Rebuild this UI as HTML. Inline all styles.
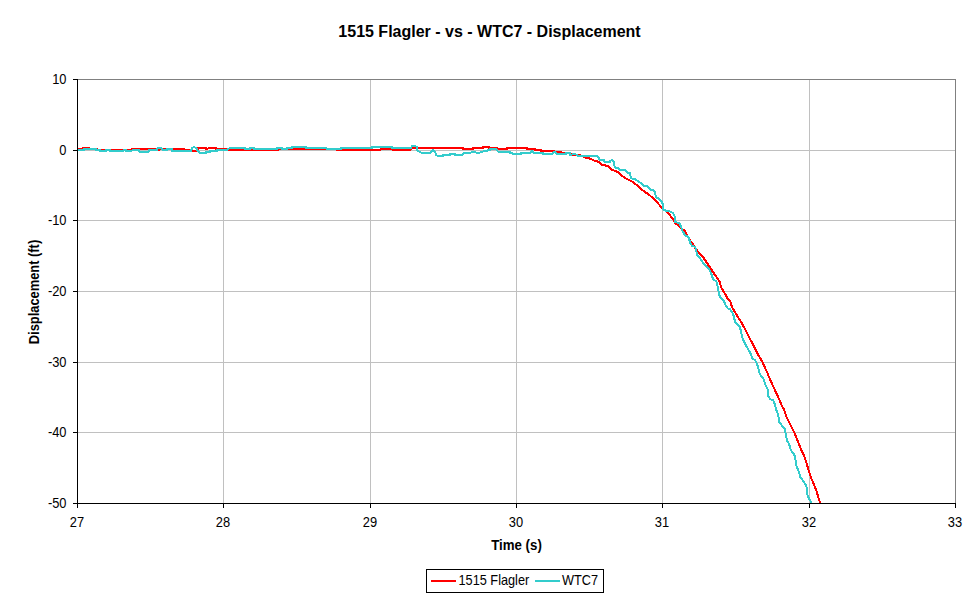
<!DOCTYPE html>
<html><head><meta charset="utf-8"><style>
html,body{margin:0;padding:0;background:#fff;}
svg{display:block;}
text{font-family:"Liberation Sans",sans-serif;fill:#000;}
</style></head><body>
<svg width="979" height="600" viewBox="0 0 979 600">
<rect x="0" y="0" width="979" height="600" fill="#fff"/>
<text x="489.5" y="37" text-anchor="middle" font-size="16" font-weight="bold">1515 Flagler - vs - WTC7 - Displacement</text>
<g shape-rendering="crispEdges">
<line x1="223.5" y1="79" x2="223.5" y2="503" stroke="#c0c0c0"/>
<line x1="370.5" y1="79" x2="370.5" y2="503" stroke="#c0c0c0"/>
<line x1="516.5" y1="79" x2="516.5" y2="503" stroke="#c0c0c0"/>
<line x1="662.5" y1="79" x2="662.5" y2="503" stroke="#c0c0c0"/>
<line x1="809.5" y1="79" x2="809.5" y2="503" stroke="#c0c0c0"/>
<line x1="77" y1="150.5" x2="955" y2="150.5" stroke="#c0c0c0"/>
<line x1="77" y1="220.5" x2="955" y2="220.5" stroke="#c0c0c0"/>
<line x1="77" y1="291.5" x2="955" y2="291.5" stroke="#c0c0c0"/>
<line x1="77" y1="362.5" x2="955" y2="362.5" stroke="#c0c0c0"/>
<line x1="77" y1="432.5" x2="955" y2="432.5" stroke="#c0c0c0"/>
<line x1="77" y1="79.5" x2="956" y2="79.5" stroke="#808080"/>
<line x1="955.5" y1="79" x2="955.5" y2="504" stroke="#808080"/>
</g>
<defs><clipPath id="pc"><rect x="77" y="77" width="879" height="426"/></clipPath></defs>
<g clip-path="url(#pc)" fill="none" stroke-width="2" shape-rendering="crispEdges" stroke-linejoin="round" stroke-linecap="butt">
<polyline stroke="#ff0000" points="77,148.5 83,148.5 83,147.5 89,147.5 89,148.5 97,148.5 97,149.5 131,149.5 132,148.5 157,148.5 157,150 160,149.5 172,148.5 184,148.5 184,149.5 191,149.5 192,151 197,151 198,148 206,148 206,149 210,148 216,148 216,149 226,149 228,150 245,150 264,150.3 278,150.3 278,149 285,149 287,149.3 293,148.5 306,148.5 306,149.3 326,149.3 337,149.5 337,150 352,150 352,149.5 381,149.5 381,148.8 392,148.8 392,149.5 411,149.5 411,148.5 417,148 463,148 463,149 473,149 473,148 483,148 483,147 489,147 489,148 497,148 499,149 507,149 507,148 527,148 527,149 535,149 535,150 541,150 541,151 554,151 554,152 561,152 561,153 570,153 570,154 575,155.3 579,154.5 584.3,157.3 589,158.3 593.7,160.3 599,162 601.7,164.7 607.7,166 611.7,169.7 617.7,172 621.7,175.7 627,179 631.7,181.3 636,184.5 643,190.5 650,195.5 656,201 662,208 668,213 673,219 675,223 679,226 683,229.5 685,231.25 688.75,238.75 692.5,243.75 697.5,251.25 702.5,256.25 707.5,263.75 711.25,269.4 715,275 719.4,281.25 721.25,287.5 725,293.75 728.1,299.4 730.3,301.7 732.3,307.7 736.3,314.3 741.7,323 745.7,330.3 749.7,338.3 755,348.3 759,356.3 762.3,361.7 765,367.7 767.7,373.7 768.3,375.3 773,386 778.3,397.3 781.7,405.3 784.3,410 786.3,416.7 790.3,424.7 793.7,431.3 796.3,437.3 798.3,442.7 801,449.3 803.9,455.2 806.3,462.2 808.6,470.3 810.9,477.3 813.8,484.3 816.2,490.2 817.9,496 819.7,501.8 820.5,506"/>
<polyline stroke="#33cccc" points="77,150 84,150 84,148.8 96,148.8 96,150 100,150 100,151 106,151 106,150 110,150 110,151 123,151 124,150 126,150 126,151 131,151 133,150.2 139,150.2 139,151.5 149,151.5 149,150 157,150 157,148.5 161,147.5 163,150 167,150 167,149 172,149 172,151 191,151 192,148 194,146.8 196,148 198,151 200,153 206,153 206,152 210,152 210,151 217,151 217,150 227,150 228,149 230,148 245,148 245,149 250,149 250,148 254,148 254,149 277,149 277,148 282,148 282,149 287,149 287,148 292,148 292,146.8 306,146.8 306,147.8 326,147.8 327,149.2 341,149.2 341,148 372,148 372,147 392,147 392,148 411,148 412,146 415,146 417,147 417,150.5 420,152 422,153 430,153 433,150.3 435,151.5 436.5,155.5 443,156 443,155 450,155 450,154 455,154 455,155 462,155 465,152.5 471,152.5 473,151.5 476,152.5 480,152.5 485,151 490,150 490,149 496,149 498,151.5 500,152 510,152 510,153 515,154 521,154 521,153 530,153 532,151 534,153 543,153 543,154 552,154 555,151.5 557,154 566,154.5 566,153 570,153 570,155 575,153.7 577.7,155.7 596.3,155.7 598.3,157.3 599.7,159.7 603.7,160 605,162 609.7,162 610.3,160.9 612.3,160 613.7,161.7 614.3,165.7 615.7,167.7 618.3,168 620.3,170 625,170 628.3,173 630,173.3 631,178.3 635,179 640,182.5 644,186 647,186 651,190 653.5,190 655,192 656,197 659,199 662,202 663,205 663,209 666,211 670,211.5 673,213 674.5,216 675,222 679,223 681,226 682,229.5 682.5,231.25 685,235 688.75,237.5 690,242.5 691.9,245.6 695,246.9 696.25,250 696.9,255 700,258.1 703.75,263.75 708.75,268.75 711.25,273.75 713.1,279.4 716.25,281.25 717.5,286.25 718.75,292.5 720,297.5 723.7,300.3 725.7,305.7 727.7,308.3 729.7,309 733,313.7 734.3,318.3 735,322.3 739.7,327 741,331 742.3,337.7 745,343.7 747.7,348.3 750.3,353 752.3,358.3 755,360.3 757,363.7 758.3,368.3 759.7,374 763.7,379.3 765,384 767.7,389.3 768.3,396 770.3,399.3 773,400 775,404.7 776.3,410 778.3,414.7 779,422 782.3,426 785,428.7 785.7,434 787,440.7 788.8,443.5 791.1,450.5 794,454 795.2,457.5 796.3,465.7 798.7,471.5 800.4,477.3 802.8,480.3 805.7,484.9 806.8,487.8 807.4,494.8 809.2,498.9 810.9,501.8 812,506"/>
</g>
<g shape-rendering="crispEdges">
<line x1="77.5" y1="79" x2="77.5" y2="504" stroke="#000"/>
<line x1="77" y1="503.5" x2="956" y2="503.5" stroke="#000"/>
<line x1="73" y1="79.5" x2="78" y2="79.5" stroke="#000"/>
<line x1="73" y1="150.5" x2="78" y2="150.5" stroke="#000"/>
<line x1="73" y1="220.5" x2="78" y2="220.5" stroke="#000"/>
<line x1="73" y1="291.5" x2="78" y2="291.5" stroke="#000"/>
<line x1="73" y1="362.5" x2="78" y2="362.5" stroke="#000"/>
<line x1="73" y1="432.5" x2="78" y2="432.5" stroke="#000"/>
<line x1="73" y1="503.5" x2="78" y2="503.5" stroke="#000"/>
<line x1="77.5" y1="503" x2="77.5" y2="508" stroke="#000"/>
<line x1="223.5" y1="503" x2="223.5" y2="508" stroke="#000"/>
<line x1="370.5" y1="503" x2="370.5" y2="508" stroke="#000"/>
<line x1="516.5" y1="503" x2="516.5" y2="508" stroke="#000"/>
<line x1="662.5" y1="503" x2="662.5" y2="508" stroke="#000"/>
<line x1="809.5" y1="503" x2="809.5" y2="508" stroke="#000"/>
<line x1="955.5" y1="503" x2="955.5" y2="508" stroke="#000"/>
</g>
<g font-size="14">
<text transform="translate(66.5,83.7) scale(0.92,1)" text-anchor="end">10</text>
<text transform="translate(66.5,154.7) scale(0.92,1)" text-anchor="end">0</text>
<text transform="translate(66.5,224.7) scale(0.92,1)" text-anchor="end">-10</text>
<text transform="translate(66.5,295.7) scale(0.92,1)" text-anchor="end">-20</text>
<text transform="translate(66.5,366.7) scale(0.92,1)" text-anchor="end">-30</text>
<text transform="translate(66.5,436.7) scale(0.92,1)" text-anchor="end">-40</text>
<text transform="translate(66.5,507.7) scale(0.92,1)" text-anchor="end">-50</text>
<text transform="translate(77.0,527) scale(0.92,1)" text-anchor="middle">27</text>
<text transform="translate(223.0,527) scale(0.92,1)" text-anchor="middle">28</text>
<text transform="translate(370.0,527) scale(0.92,1)" text-anchor="middle">29</text>
<text transform="translate(516.0,527) scale(0.92,1)" text-anchor="middle">30</text>
<text transform="translate(662.0,527) scale(0.92,1)" text-anchor="middle">31</text>
<text transform="translate(809.0,527) scale(0.92,1)" text-anchor="middle">32</text>
<text transform="translate(955.0,527) scale(0.92,1)" text-anchor="middle">33</text>
</g>
<text transform="translate(516.5,550.3) scale(0.95,1)" text-anchor="middle" font-size="14" font-weight="bold">Time (s)</text>
<text transform="translate(39,292) rotate(-90) scale(0.92,1)" text-anchor="middle" font-size="14" font-weight="bold">Displacement (ft)</text>
<g shape-rendering="crispEdges">
<rect x="426.5" y="569.5" width="177" height="23" fill="#fff" stroke="#000"/>
<line x1="431" y1="581" x2="456" y2="581" stroke="#ff0000" stroke-width="2"/>
<line x1="535" y1="581" x2="560" y2="581" stroke="#33cccc" stroke-width="2"/>
</g>
<g font-size="14">
<text transform="translate(458.5,585) scale(0.91,1)">1515 Flagler</text>
<text transform="translate(562,585) scale(0.91,1)">WTC7</text>
</g>
</svg>
</body></html>
